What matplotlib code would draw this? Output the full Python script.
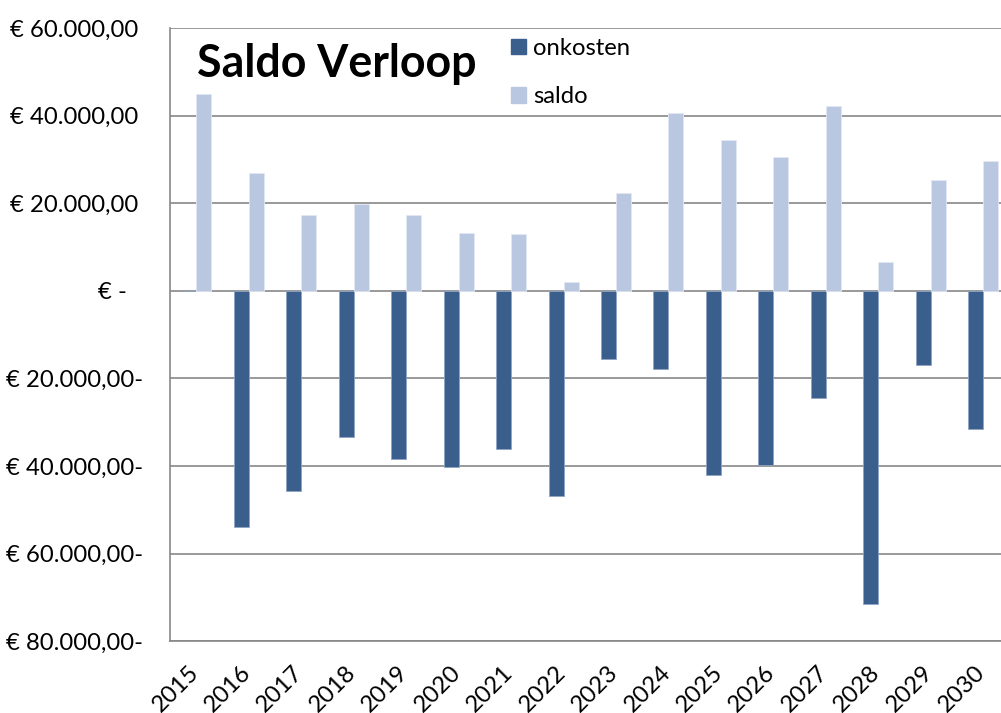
import matplotlib.pyplot as plt
import matplotlib.transforms as mtransforms
from matplotlib.patches import Patch
import numpy as np

# gegevens
jaren = [str(j) for j in range(2015, 2031)]
onkosten = [0, -54000, -45700, -33400, -38500, -40200, -36100, -46900,
            -15650, -17900, -42050, -39800, -24500, -71550, -17000, -31600]
saldo = [45000, 27000, 17300, 19850, 17400, 13200, 13000, 2100,
         22400, 40500, 34400, 30500, 42100, 6500, 25400, 29750]
y_ticks = list(range(-80000, 60001, 20000))

kleur_onkosten = '#3A5F8D'
kleur_saldo = '#B9C7E0'
grijs = '#888888'

plt.rcParams['font.family'] = ['Lato', 'DejaVu Sans']


def euro(v):
    if v == 0:
        return '€ -'
    s = f"{abs(v):,.2f}".replace(',', '#').replace('.', ',').replace('#', '.')
    return f"€ {s}-" if v < 0 else f"€ {s}"


fig = plt.figure(figsize=(10.01, 7.13), dpi=100)
ax = fig.add_axes([0.1701, 0.1006, 0.8382, 0.8601])

x = np.arange(len(jaren))
w = 0.2857
ax.bar(x - w / 2, onkosten, w, color=kleur_onkosten, edgecolor='#8fa5c4', linewidth=0.6, zorder=3)
ax.bar(x + w / 2, saldo, w, color=kleur_saldo, edgecolor='#e3e9f3', linewidth=0.6, zorder=3)

ax.set_xlim(-0.5, len(jaren) - 0.5)
ax.set_ylim(-80000, 60000)
ax.set_yticks(y_ticks)
ax.set_yticklabels([euro(v) for v in y_ticks], fontsize=17.2)
ax.set_xticks(x)
ax.set_xticklabels(jaren, rotation=45, ha='right', va='top', fontsize=17.2)

ax.yaxis.grid(True, color=grijs, linewidth=1.2, zorder=1)
ax.tick_params(axis='y', length=0, pad=19.5)
ax.tick_params(axis='x', length=0, pad=15)

# accountancy-notatie: positieve en nul labels schuiven iets naar links
for lbl, v in zip(ax.get_yticklabels(), y_ticks):
    if v > 0:
        dx = -5
    elif v == 0:
        dx = -16
    else:
        dx = 0
    lbl.set_transform(lbl.get_transform() + mtransforms.ScaledTranslation(dx / 100, 0, fig.dpi_scale_trans))
for lbl in ax.get_xticklabels():
    lbl.set_transform(lbl.get_transform() + mtransforms.ScaledTranslation(6 / 100, 0, fig.dpi_scale_trans))

for kant in ['top', 'right']:
    ax.spines[kant].set_visible(False)
for kant in ['left', 'bottom']:
    ax.spines[kant].set_color(grijs)
    ax.spines[kant].set_linewidth(1.2)

fig.text(197 / 1001, 1 - 77 / 713, 'Saldo Verloop', fontsize=32.2, fontweight='bold', va='baseline')

handles = [Patch(color=kleur_onkosten, label='onkosten'),
           Patch(color=kleur_saldo, label='saldo')]
fig.legend(handles=handles, loc='upper left', bbox_to_anchor=(511 / 1001, 1 - 38 / 713),
           frameon=False, fontsize=17.2, borderpad=0, borderaxespad=0,
           handlelength=0.62, handleheight=0.62, handletextpad=0.3, labelspacing=1.15)

fig.savefig('out.png', dpi=100)
